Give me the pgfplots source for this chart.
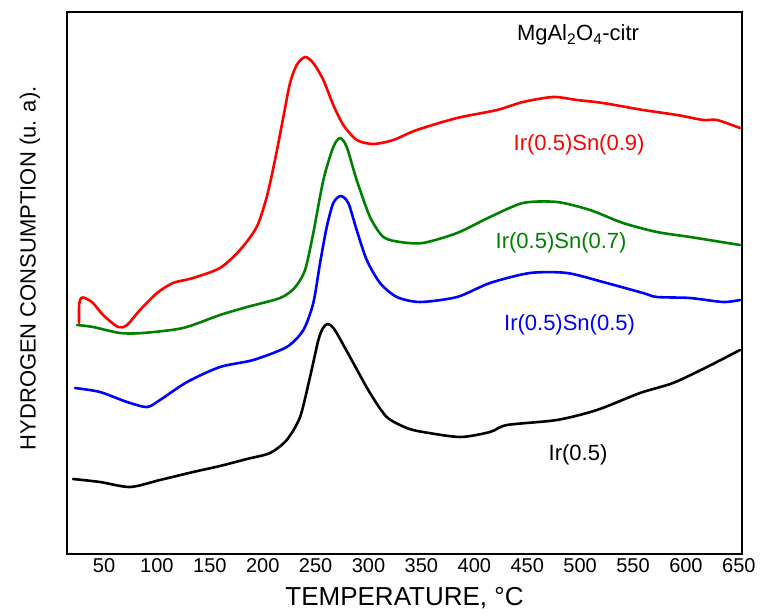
\documentclass[border=0pt]{standalone}
\usepackage{fontspec}
\setmainfont{Liberation Sans}
\usepackage{pgfplots}
\pgfplotsset{compat=1.18}
\usetikzlibrary{calc}

\definecolor{cred}{RGB}{255,0,0}
\definecolor{cgreen}{RGB}{0,128,0}
\definecolor{cblue}{RGB}{0,0,255}

\begin{document}
\begin{tikzpicture}
\begin{axis}[
  scale only axis,
  width=675pt, height=542pt,
  xmin=15, xmax=653, ymin=0, ymax=542,
  xtick={50,100,...,650},
  ytick=\empty,
  major tick length=0pt,
  axis line style={line width=1.6pt},
  /pgf/number format/assume math mode=true,
  xticklabel style={font=\fontsize{20}{20}\selectfont, yshift=-1pt},
  xlabel={TEMPERATURE, °C},
  ylabel={HYDROGEN CONSUMPTION (u. a).},
  xlabel style={font=\fontsize{26}{26}\selectfont, at={(axis description cs:0.5,0)}, anchor=center, yshift=-44pt},
  ylabel style={font=\fontsize{22}{22}\selectfont, at={(axis description cs:-0.055,0.527)}, anchor=center},
  every axis plot/.append style={line width=2.6pt, line join=round, line cap=round, no markers, smooth, tension=0.45},
]
\coordinate (bl) at (rel axis cs:0,0);
\coordinate (tr) at (rel axis cs:1,1);

% Ir(0.5)
\addplot[black] coordinates {
(20.7,75) (46.2,72) (74.6,67) (102.9,74) (134.2,82) (159.6,88) (185,95)
(206.9,101) (222.7,114) (235.3,137) (244.7,177) (252.6,214) (257,226)
(261.1,230) (265,228) (269.9,221) (285.6,191) (301.4,161) (317.2,137)
(336.1,126) (351.5,122) (386.5,117) (414.8,122) (430.9,129) (478.1,134)
(515.9,144) (556.6,161) (587.8,171) (619.9,187) (651.1,204)
};

% Ir(0.5)Sn(0.5)
\addplot[cblue] coordinates {
(22.6,166) (46.2,162) (71.7,152) (90.6,147) (102.9,154) (128.5,172)
(159.6,187) (191.1,194) (222.7,207) (238.4,224) (247.8,251) (254.2,291)
(260.5,327) (266.7,351) (273.7,358) (280.9,351) (288.8,324) (298.3,294)
(310.9,271) (326.7,257) (348.7,252) (383.7,257) (414.8,271) (452.6,281)
(487.6,281) (521.6,272) (559.4,261) (572.6,257) (603.9,256) (635.0,252)
(651.1,254)
};

% Ir(0.5)Sn(0.7)
\addplot[cgreen] coordinates {
(24.5,229) (39.6,227) (65.1,221) (86.9,221) (124.7,226) (159.6,239)
(185.2,247) (216.4,256) (230,266) (240.0,284) (247.8,321) (257.3,374)
(266.7,407) (273.1,416) (279.4,407) (288.8,374) (301.4,337) (314.0,317)
(329.8,312) (351.5,311) (383.7,321) (414.8,337) (446.0,351) (478.1,352)
(509.3,344) (540.5,331) (572.6,322) (603.9,317) (651.1,309)
};

% Ir(0.5)Sn(0.9)
\addplot[cred] coordinates {
(26.4,231) (26.5,250) (28.5,256) (32,256) (39.6,251) (49.1,239) (63.2,227)
(71.7,229) (84.0,244) (100.1,261) (115.2,271) (134.2,276) (159.6,286)
(178.5,304) (194.3,327) (203.8,357) (211.6,394) (219.5,437) (225.8,471)
(232.1,489) (240.0,497) (247.8,491) (257.3,474) (266.7,449) (276.2,429)
(288.8,414) (304.5,410) (323.4,414) (345.6,424) (383.7,436) (421.5,444)
(446.0,452) (474.4,457) (497.0,454) (521.6,451) (559.4,444) (591.6,439)
(616.2,434) (629.4,434) (651.1,426)
};

\node[font=\fontsize{22}{22}\selectfont] at (axis cs:498,519) {MgAl\textsubscript{2}O\textsubscript{4}-citr};
\node[text=cred, font=\fontsize{22}{22}\selectfont] at (axis cs:499,409) {Ir(0.5)Sn(0.9)};
\node[text=cgreen, font=\fontsize{22}{22}\selectfont] at (axis cs:482,311) {Ir(0.5)Sn(0.7)};
\node[text=cblue, font=\fontsize{22}{22}\selectfont] at (axis cs:490,229) {Ir(0.5)Sn(0.5)};
\node[font=\fontsize{22}{22}\selectfont] at (axis cs:498,99) {Ir(0.5)};
\end{axis}
\pgfresetboundingbox
\path ($(bl)+(-67pt,-59pt)$) rectangle ($(tr)+(18pt,12pt)$);
\end{tikzpicture}
\end{document}
